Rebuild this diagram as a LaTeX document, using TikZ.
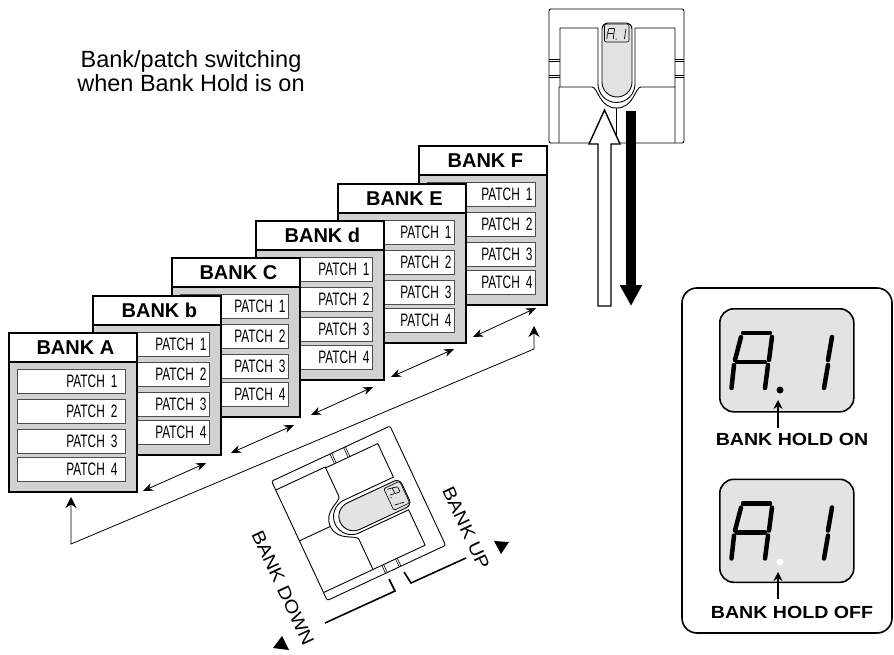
\documentclass[tikz,border=0pt]{standalone}
\usepackage{fontspec}
\setmainfont{Liberation Sans}
\newfontfamily\patchfont[FakeStretch=0.66]{Liberation Sans}
\newfontfamily\wideboldfont[FakeStretch=1.12]{Liberation Sans Bold}
\newfontfamily\widefont[FakeStretch=1.12]{Liberation Sans}
\usetikzlibrary{arrows.meta}
\definecolor{bankgray}{gray}{0.82}
\definecolor{lcdgray}{gray}{0.89}
\tikzset{
  bankbody/.style={draw=black,line width=1.8pt,fill=bankgray,anchor=north west,minimum width=128pt,minimum height=159pt,inner sep=0pt},
  bankhead/.style={draw=black,line width=1.8pt,fill=white,anchor=north west,minimum width=128pt,minimum height=29pt,inner sep=0pt},
  banktitle/.style={xshift=2.5pt,font=\bfseries\fontsize{20}{20}\selectfont},
  patchbox/.style={draw=black!70,line width=0.9pt,fill=white,anchor=north west,minimum width=108pt,minimum height=24pt,inner sep=0pt,font=\patchfont\fontsize{18}{18}\selectfont},
  hop/.style={{Stealth[length=10pt,width=8pt]}-{Stealth[length=10pt,width=8pt]},line width=0.8pt},
  holdlabel/.style={font=\wideboldfont\fontsize{17.5}{18}\selectfont},
  lcd/.style={draw=black,line width=1.6pt,fill=lcdgray,rounded corners=14pt,anchor=north west,minimum width=134pt,minimum height=103pt,inner sep=0pt},
  seg/.style={line cap=round,line width=#1},
  pics/segments/.style={code={
    \draw[seg=#1] (24,25) -- (51,25);
    \draw[seg=#1] (22,29) -- (16,52);
    \draw[seg=#1] (18,54) -- (46,54);
    \draw[seg=#1] (15,57) -- (12.5,80);
    \draw[seg=#1] (53,29) -- (50,52);
    \draw[seg=#1] (49,57) -- (46,80);
    \draw[seg=#1] (113,29) -- (109,52);
    \draw[seg=#1] (109,57) -- (105,80);
  }},
  pics/pedal/.style={code={
    \draw[line width=0.9pt,rounded corners=2pt] (0,0) rectangle (135,134);
    \draw[line width=0.6pt] (0,50.5) -- (11,50.5) (0,52.5) -- (11,52.5) (0,66) -- (11,66) (0,68) -- (11,68);
    \draw[line width=0.6pt] (126,50.5) -- (135,50.5) (126,52.5) -- (135,52.5) (126,66) -- (135,66) (126,68) -- (135,68);
    \draw[line width=0.9pt] (11,78) -- (11,19) -- (49,19) -- (49,75) arc[start angle=180,end angle=0,radius=18.5] -- (86,19) -- (126,19) -- (126,78);
    \draw[line width=0.9pt] (10,134) -- (10,78) -- (43,78) .. controls (49,78) and (50,99) .. (67.5,99) .. controls (85,99) and (86,78) .. (92,78) -- (126,78) -- (126,134);
    \draw[line width=0.9pt] (67.5,99) -- (67.5,134);
    \draw[line width=0.9pt,fill=lcdgray] (53,73) arc[start angle=180,end angle=0,radius=15] -- (83,20) arc[start angle=0,end angle=-90,radius=6] -- (59,14) arc[start angle=-90,end angle=-180,radius=6] -- cycle;
    \draw[line width=0.6pt,fill=lcdgray,rounded corners=2pt] (55.5,15) rectangle (80,33);
    \begin{scope}[shift={(55.5,14.5)},scale=0.19]
      \pic[transform shape] {segments=0.7pt};
      \fill (61,82) circle (3.5);
    \end{scope}
  }},
}
\begin{document}
\begin{tikzpicture}[x=1pt,y=-1pt,line cap=butt,line join=miter]
  \useasboundingbox (0,0) rectangle (894,655);
  % title
  \node (title) [font=\fontsize{23.5}{24}\selectfont,align=center] at (191,71) {Bank/patch switching\\when Bank Hold is on};
  % banks, back to front
  \foreach \name/\bankname/\bx/\by/\tm in {F/BANK F/418/145/3,E/BANK E/337/183/3,d/BANK d/255/220/3,C/BANK C/171/257/3,b/BANK b/92/295/3,A/BANK A/8/332/8} {
    \node (bank\name) [bankbody] at (\bx,\by) {};
    \node (head\name) [bankhead] at (\bx,\by) {};
    \node (title\name) [banktitle] at (head\name.center) {\bankname};
    \foreach \n/\py in {1/37,2/67,3/97,4/125} {
      \node (patch\name\n) [patchbox,text width=108pt-2*\tm pt,align=right] at (\bx+9,\by+\py) {PATCH \n};
    }
  }
  % arrows between banks
  \foreach \i/\ax/\ay/\cx/\cy in {1/143/491/206/463,2/231/453/294/425,3/311/415/373/387,4/391/377/454/349,5/473/337/536/308} {
    \coordinate (hopa\i) at (\ax,\ay);
    \coordinate (hopb\i) at (\cx,\cy);
    \draw[hop] (hopa\i) -- (hopb\i);
  }
  \coordinate (backa) at (534,326);
  \coordinate (backb) at (534,349);
  \coordinate (backc) at (71,544);
  \coordinate (backd) at (71,497);
  \draw[{Stealth[length=11pt,width=11pt]}-{Stealth[length=11pt,width=11pt]},line width=0.8pt] (backa) -- (backb) -- (backc) -- (backd);
  % top pedal
  \pic (pedaltop) at (549,9) {pedal};
  \draw[line width=1.4pt,fill=white,line join=miter] (598,306) -- (598,144) -- (589,144) -- (604.5,110) -- (620,144) -- (611,144) -- (611,306) -- cycle;
  \coordinate (downa) at (631,111);
  \coordinate (downb) at (631,306);
  \draw[line width=10pt,-{Triangle[length=21pt,width=21pt]}] (downa) -- (downb);
  % bottom pedal
  \pic[rotate=-65,scale=0.975] (pedalbottom) at (390,426) {pedal};
  \draw[line width=1.6pt] (404,572) -- (411,583) -- (466,558);
  \draw[line width=1.6pt] (389,579) -- (395,591) -- (325,623);
  \node (bankup) [rotate=-65,font=\widefont\fontsize{18}{18}\selectfont] at (466,528) {BANK UP};
  \node (bankdown) [rotate=-65,font=\widefont\fontsize{18}{18}\selectfont] at (283,588) {BANK DOWN};
  \fill (494,541) -- (509,542) -- (501,554) -- cycle;
  \fill (273,648) -- (289,650) -- (282,636) -- cycle;
  % display panel
  \draw[line width=1.6pt,rounded corners=15pt] (682,288) rectangle (892,633);
  \node (lcdon) [lcd] at (719,308) {};
  \node (lcdoff) [lcd] at (719,478.5) {};
  \pic at (719,308) {segments=4.5pt};
  \pic at (719,478.5) {segments=4.5pt};
  \fill (780,390) circle (3.5);
  \fill[white] (780,562) circle (3.5);
  \node (holdon) [holdlabel] at (792,439) {BANK HOLD ON};
  \node (holdoff) [holdlabel] at (792,612) {BANK HOLD OFF};
  \coordinate (ona) at (778,428);
  \coordinate (onb) at (778,400);
  \coordinate (offa) at (778,599);
  \coordinate (offb) at (778,572);
  \draw[line width=2pt,-{Stealth[length=9pt,width=9pt]}] (ona) -- (onb);
  \draw[line width=2pt,-{Stealth[length=9pt,width=9pt]}] (offa) -- (offb);
\end{tikzpicture}
\end{document}
